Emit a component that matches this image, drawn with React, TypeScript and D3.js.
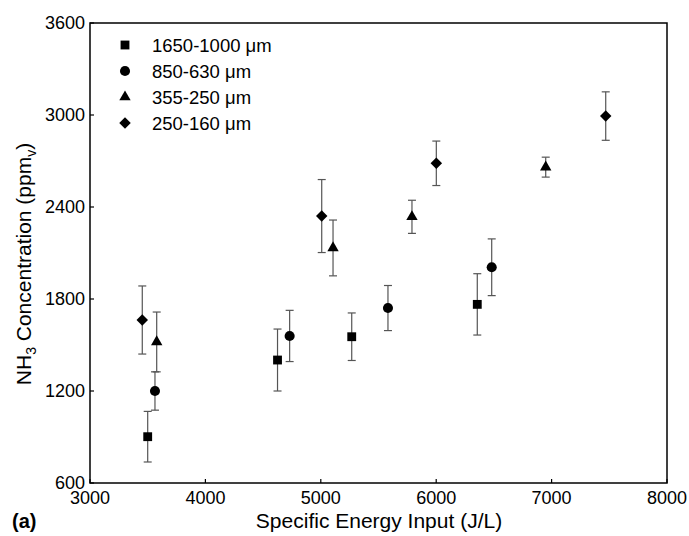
import React from "react";
import * as d3 from "d3";

const seriesNames = ["1650-1000 \u03bcm", "850-630 \u03bcm", "355-250 \u03bcm", "250-160 \u03bcm"];
const seriesShapes = ["square", "circle", "triangle", "diamond"];

const sq_x = [3500, 4625, 5268, 6356];
const sq_y = [902, 1402, 1554, 1765];
const sq_e = [165, 202, 155, 200];

const ci_x = [3563, 4730, 5582, 6481];
const ci_y = [1200, 1559, 1741, 2007];
const ci_e = [125, 167, 147, 185];

const tr_x = [3578, 5106, 5790, 6949];
const tr_y = [1520, 2133, 2336, 2660];
const tr_e = [195, 182, 108, 65];

const di_x = [3453, 5008, 6001, 7469];
const di_y = [1663, 2341, 2685, 2993];
const di_e = [222, 238, 145, 158];

const xTicks = [3000, 4000, 5000, 6000, 7000, 8000];
const yTicks = [600, 1200, 1800, 2400, 3000, 3600];

const seriesX = [sq_x, ci_x, tr_x, di_x];
const seriesY = [sq_y, ci_y, tr_y, di_y];
const seriesE = [sq_e, ci_e, tr_e, di_e];

const W = 689;
const H = 536;
const L = 90, R = 667, T = 23, B = 483;
const FONT = "'Liberation Sans', Arial, Helvetica, sans-serif";

function markerPath(shape: string): string {
  if (shape === "square") return d3.symbol(d3.symbolSquare, 78)() as string;
  if (shape === "circle") return d3.symbol(d3.symbolCircle, 80)() as string;
  if (shape === "triangle") return d3.symbol(d3.symbolTriangle, 56)() as string;
  return d3.symbol(d3.symbolSquare, 66)() as string;
}

export default function App() {
  const x = d3.scaleLinear().domain([3000, 8000]).range([L, R]);
  const y = d3.scaleLinear().domain([600, 3600]).range([B, T]);
  const cap = 4;

  return (
    <svg width={W} height={H} style={{ position: "absolute", left: 0, top: 0, background: "#fff" }} fontFamily={FONT}>
      <rect x={0} y={0} width={W} height={H} fill="#fff" />
      {seriesX.map((xs, si) =>
        xs.map((xv, i) => {
          const cx = x(xv);
          const yt = y(seriesY[si][i] + seriesE[si][i]);
          const yb = y(seriesY[si][i] - seriesE[si][i]);
          return (
            <g key={`e${si}-${i}`} stroke="#555" strokeWidth={1.2}>
              <line x1={cx} x2={cx} y1={yt} y2={yb} />
              <line x1={cx - cap} x2={cx + cap} y1={yt} y2={yt} />
              <line x1={cx - cap} x2={cx + cap} y1={yb} y2={yb} />
            </g>
          );
        })
      )}
      {seriesX.map((xs, si) =>
        xs.map((xv, i) => {
          const shape = seriesShapes[si];
          const rot = shape === "diamond" ? " rotate(45)" : "";
          return (
            <path
              key={`m${si}-${i}`}
              d={markerPath(shape)}
              transform={`translate(${x(xv)},${y(seriesY[si][i])})${rot}`}
              fill="#000"
            />
          );
        })
      )}
      <rect x={L} y={T} width={R - L} height={B - T} fill="none" stroke="#000" strokeWidth={1.5} />
      {xTicks.map((t) => (
        <g key={`xt${t}`}>
          <line x1={x(t)} x2={x(t)} y1={B} y2={B - 4} stroke="#000" strokeWidth={1.2} />
          <text x={x(t)} y={504} textAnchor="middle" fontSize={18} fill="#000">
            {t}
          </text>
        </g>
      ))}
      {yTicks.map((t) => (
        <g key={`yt${t}`}>
          <line x1={L} x2={L + 4} y1={y(t)} y2={y(t)} stroke="#000" strokeWidth={1.2} />
          <text x={85} y={y(t) + 5.5} textAnchor="end" fontSize={18} fill="#000">
            {t}
          </text>
        </g>
      ))}
      <text x={379} y={528} textAnchor="middle" fontSize={21} fill="#000">
        Specific Energy Input (J/L)
      </text>
      <text transform={`translate(31,264) rotate(-90)`} textAnchor="middle" fontSize={21} fill="#000">
        NH<tspan fontSize={14} dy={5}>3</tspan>
        <tspan dy={-5}> Concentration (ppm</tspan>
        <tspan fontSize={14} dy={5}>v</tspan>
        <tspan dy={-5}>)</tspan>
      </text>
      <text x={12} y={528} fontSize={20} fontWeight="bold" fill="#000">
        (a)
      </text>
      {seriesNames.map((name, i) => {
        const ly = 45 + i * 26;
        const shape = seriesShapes[i];
        const rot = shape === "diamond" ? " rotate(45)" : "";
        return (
          <g key={`lg${i}`}>
            <path d={markerPath(shape)} transform={`translate(125,${ly})${rot}`} fill="#000" />
            <text x={152} y={ly + 6.5} fontSize={18.5} fill="#000">
              {name}
            </text>
          </g>
        );
      })}
    </svg>
  );
}
